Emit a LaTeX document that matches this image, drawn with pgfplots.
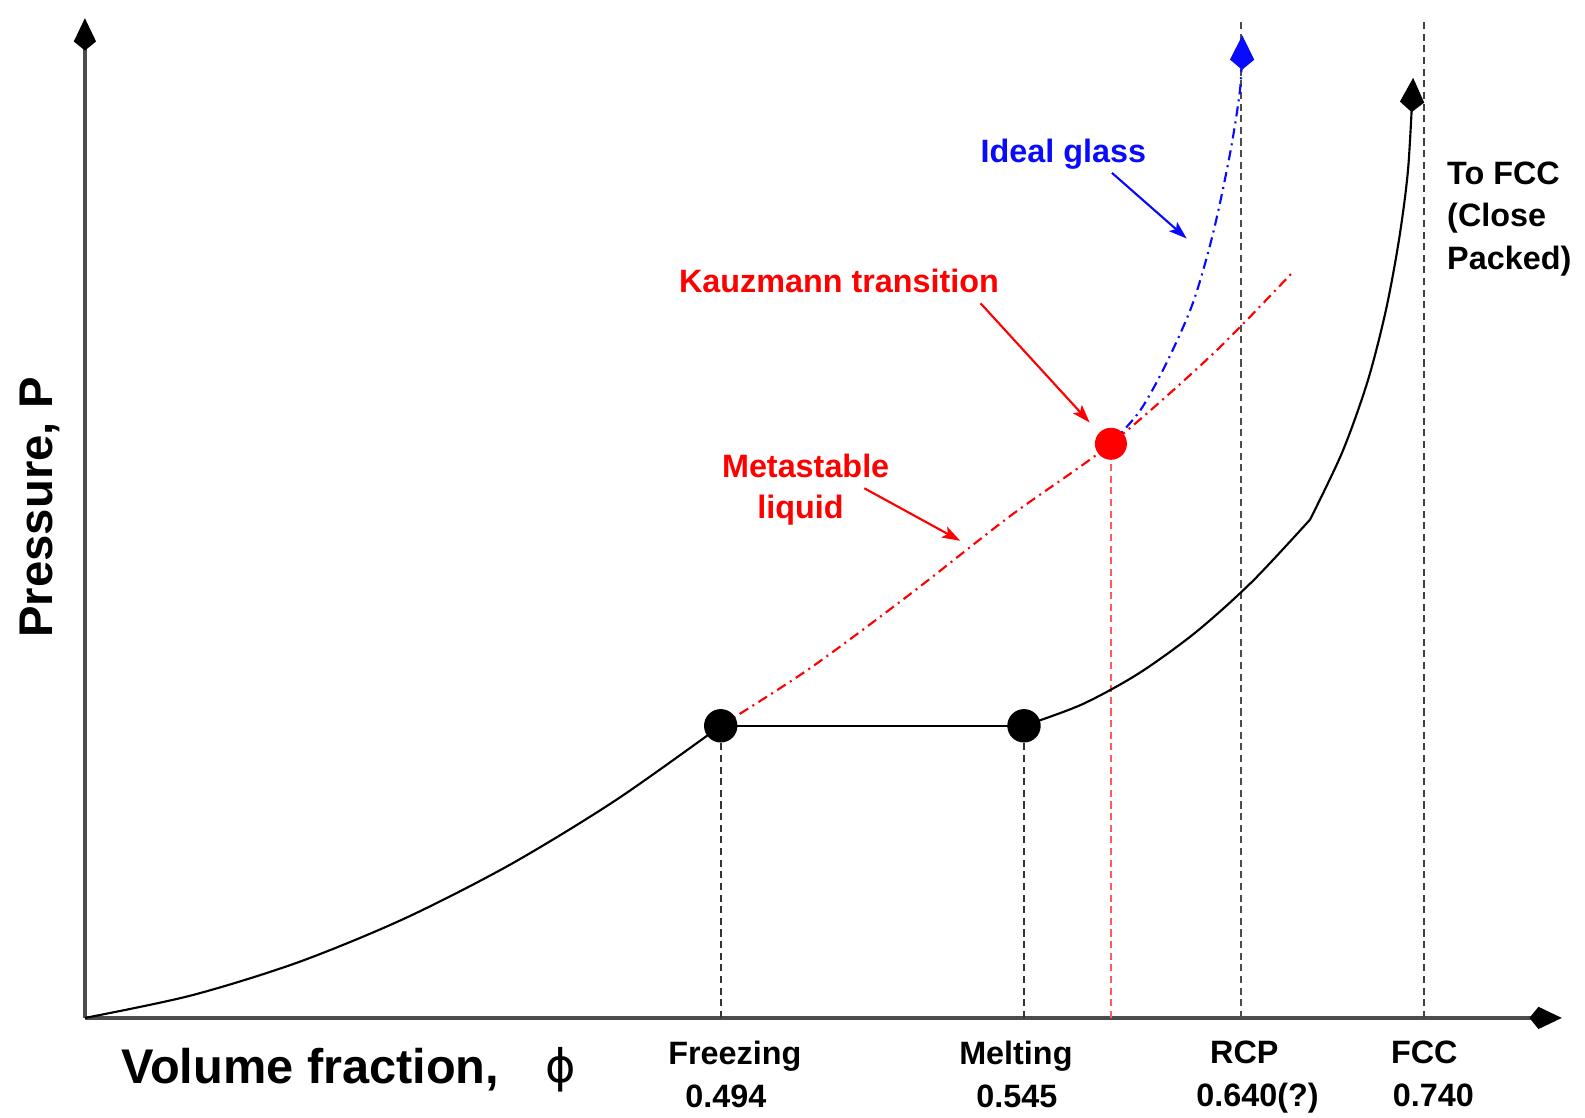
\documentclass[border=0pt]{standalone}
\usepackage{pgfplots}
\pgfplotsset{compat=1.18}
\usepackage{fontspec}
\setmainfont{Liberation Sans}
\newfontfamily\phifont{DejaVu Sans}
\usetikzlibrary{arrows.meta}
\definecolor{myred}{RGB}{255,0,0}
\definecolor{myblue}{RGB}{10,10,255}
\newcommand{\sh}[2]{\makebox[0pt][c]{\hspace*{#1}#2}}
\tikzset{
  bigtip/.style={-{Kite[length=0.34cm,width=0.24cm,inset=0.1cm]}},
  smalltip/.style={-{Stealth[length=0.18cm,width=0.12cm,inset=0.04cm]}},
  dashdot/.style={dash pattern=on 0.1cm off 0.05cm on 0.02cm off 0.05cm},
  guide/.style={dash pattern=on 0.07cm off 0.045cm},
  smallfont/.style={font=\fontsize{9.1}{11}\selectfont\bfseries},
}
\begin{document}
\begin{tikzpicture}
\begin{axis}[
  x=0.01cm, y=0.01cm,
  xmin=0, xmax=1461, ymin=0, ymax=989,
  axis lines=left,
  axis line style={line width=0.9pt, black!70},
  x axis line style={-{Kite[length=0.32cm,width=0.22cm,inset=0.09cm,color=black]}},
  y axis line style={-{Kite[length=0.32cm,width=0.22cm,inset=0.09cm,color=black]}},
  clip=false,
  ytick=\empty,
  xtick={629,929,1144,1325},
  xticklabels={{\sh{0.28cm}{Freezing}\\\sh{0.1cm}{0.494}},
               {\sh{-0.16cm}{Melting}\\\sh{-0.14cm}{0.545}},
               {\sh{0.06cm}{RCP}\\\sh{0.32cm}{0.640(?)}},
               {\sh{0cm}{FCC}\\\sh{0.18cm}{0.740}}},
  major tick length=0pt,
  xticklabel style={align=center, font=\fontsize{9.1}{12.2}\selectfont\bfseries, yshift=-0.1cm},
]
% vertical dashed guides
\addplot[black!80, line width=0.5pt, guide] coordinates {(629,0) (629,289)};
\addplot[black!80, line width=0.5pt, guide] coordinates {(929,0) (929,289)};
\addplot[black!70, line width=0.65pt, guide] coordinates {(1144,0) (1144,987)};
\addplot[black!75, line width=0.6pt, guide] coordinates {(1325,0) (1325,989)};
\addplot[myred!65, line width=0.75pt, guide] coordinates {(1015,0) (1015,568)};
% equilibrium curve
\addplot[black, line width=0.6pt, smooth] coordinates {(0,0) (105,22.2) (210,54.7) (315,97.8) (420,151.3) (525,215.3) (629,289)};
\addplot[black, line width=0.6pt] coordinates {(629,289) (929,289)};
\addplot[black, line width=0.6pt, smooth] coordinates {(929,289) (986,310) (1042,340.5) (1099,381.6) (1155,431.9) (1212,493)};
\addplot[black, line width=0.6pt, smooth, bigtip] coordinates {(1212,493) (1244,560) (1269,630) (1287,700) (1300,770) (1309,840) (1314,930)};
% metastable liquid
\addplot[myred, line width=0.6pt, smooth, dashdot] coordinates {(629,289) (716,345) (816,419) (916,497) (1015,568) (1116,657) (1196,739)};
% ideal glass
\addplot[myblue, line width=0.6pt, smooth, dashdot, bigtip] coordinates {(1015,568) (1044,601) (1070,648) (1096,707) (1116,776) (1133,856) (1143,921) (1145,972)};
% points
\addplot[only marks, mark=*, mark size=4.5pt, black] coordinates {(629,289) (929,289)};
\addplot[only marks, mark=*, mark size=4.3pt, myred, mark options={draw=myred}] coordinates {(1015,568)};
% annotation arrows
\draw[myblue, line width=0.6pt, smalltip] (axis cs:1016,836) -- (axis cs:1090,771);
\draw[myred, line width=0.6pt, smalltip] (axis cs:886,707) -- (axis cs:994,589);
\draw[myred, line width=0.6pt, smalltip] (axis cs:771,524) -- (axis cs:866,472);
% labels
\node[smallfont, text=myblue, anchor=base] at (axis cs:968,846) {Ideal glass};
\node[smallfont, text=myred, anchor=base] at (axis cs:746,718) {Kauzmann transition};
\node[smallfont, text=myred, anchor=base] at (axis cs:713,535) {Metastable};
\node[smallfont, text=myred, anchor=base] at (axis cs:708,494) {liquid};
\node[smallfont, anchor=base west, inner sep=0pt] at (axis cs:1347,824) {To FCC};
\node[smallfont, anchor=base west, inner sep=0pt] at (axis cs:1347,783) {(Close};
\node[smallfont, anchor=base west, inner sep=0pt] at (axis cs:1347,740) {Packed)};
\node[anchor=base, inner sep=0pt, font=\fontsize{13.7}{16}\selectfont\bfseries] at (axis cs:223,-65) {Volume fraction,};
\node[anchor=base, inner sep=0pt, font=\phifont\fontsize{13}{16}\selectfont] at (axis cs:471,-64) {ϕ};
\node[rotate=90, anchor=base, inner sep=0pt, font=\fontsize{13.3}{16}\selectfont\bfseries] at (axis cs:-32,505) {Pressure, P};
\coordinate (bbA) at (axis cs:-84,-98);
\coordinate (bbB) at (axis cs:1484,1007);
\end{axis}
\pgfresetboundingbox
\path (bbA) rectangle (bbB);
\end{tikzpicture}
\end{document}
